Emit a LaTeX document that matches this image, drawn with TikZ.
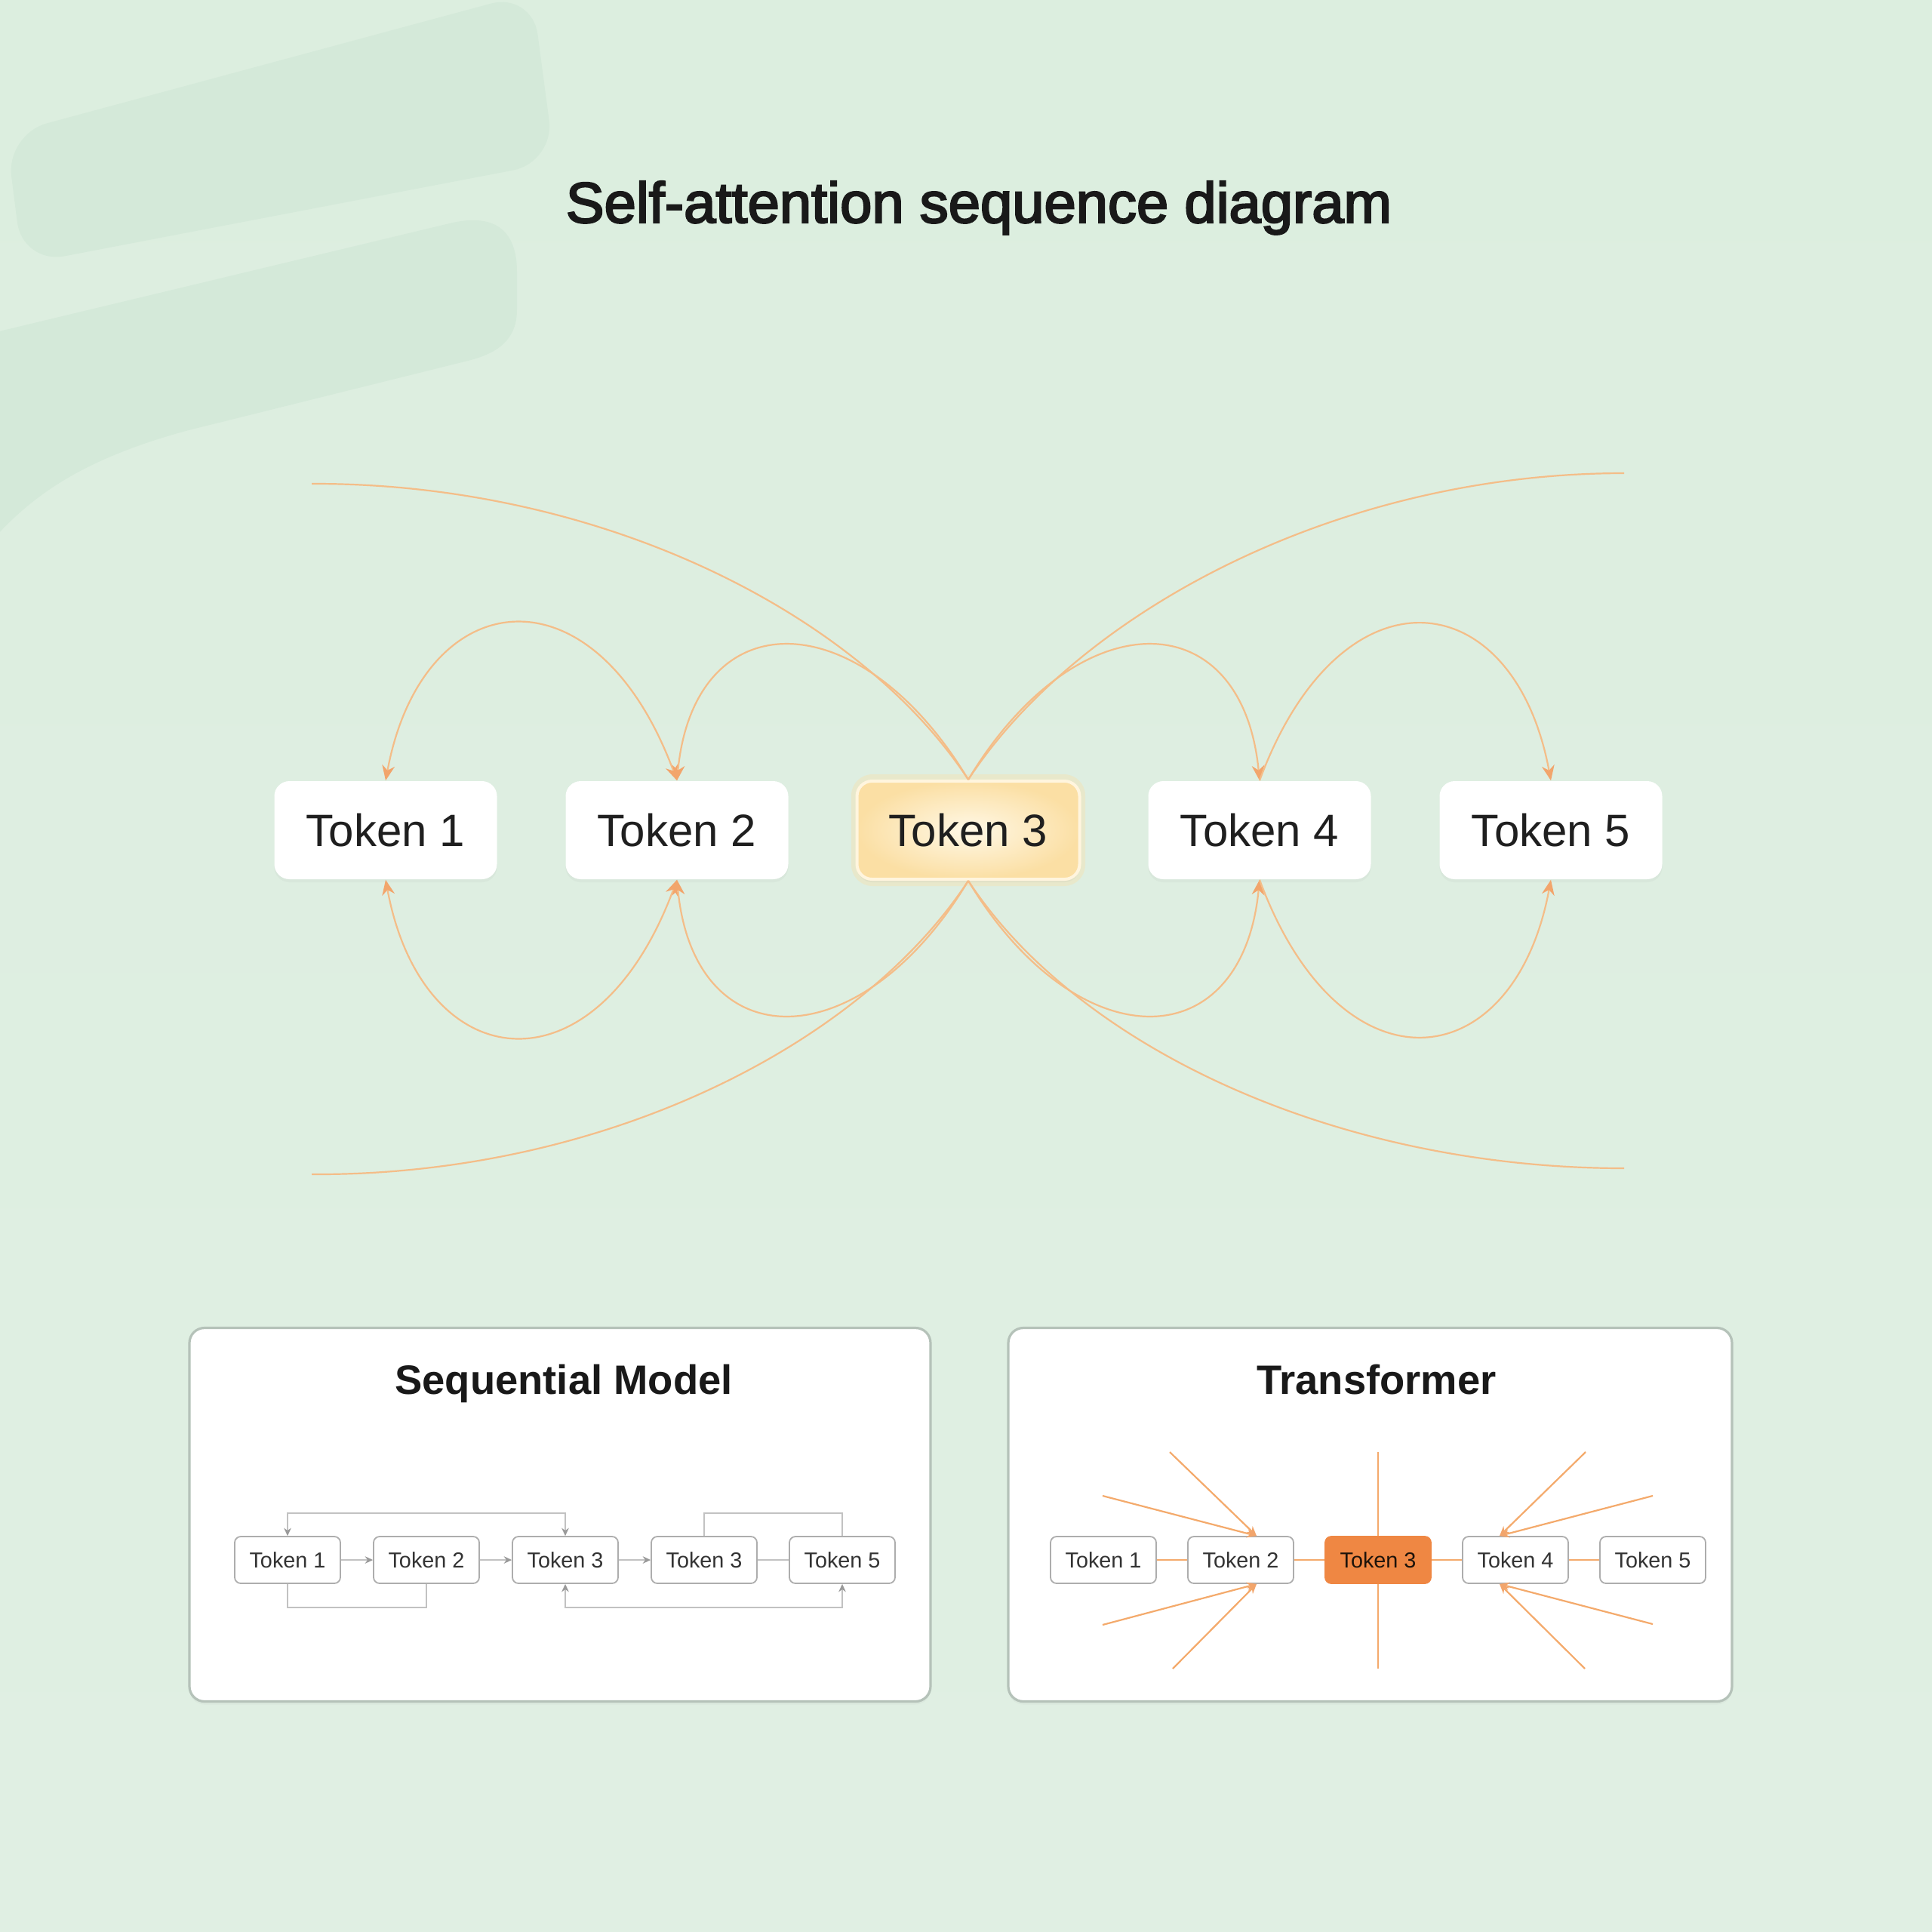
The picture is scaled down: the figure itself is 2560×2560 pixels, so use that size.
\documentclass[tikz,border=0pt]{standalone}
\usepackage{fontspec}
\setmainfont{Liberation Sans}
\newfontfamily\titlefont[FakeBold=3]{Liberation Sans}
\usetikzlibrary{arrows.meta,shadows}
\definecolor{bgA}{HTML}{DCEEDF}
\definecolor{bgB}{HTML}{E0EFE3}
\definecolor{band}{HTML}{D4E9D9}
\definecolor{curve}{HTML}{F4BD88}
\definecolor{tipc}{HTML}{F2A56C}
\definecolor{hotA}{HTML}{FFF8E6}
\definecolor{hotB}{HTML}{FBDFA4}
\definecolor{hotbd}{HTML}{FFF5DE}
\definecolor{panelbd}{HTML}{B5C2B9}
\definecolor{smallbd}{HTML}{ADADAD}
\definecolor{seqline}{HTML}{C2C2C2}
\definecolor{orangeT}{HTML}{EF8743}
\definecolor{rayc}{HTML}{F4AA6C}
\begin{document}
\begin{tikzpicture}[x=0.25pt,y=-0.25pt,
  bigtok/.style={rectangle, rounded corners=5pt, minimum width=73.75pt, minimum height=32.5pt,
    fill=white, inner sep=0pt, text=black!88, font=\fontsize{15pt}{18pt}\selectfont,
    drop shadow={opacity=0.06, shadow xshift=0pt, shadow yshift=-1pt}},
  hottok/.style={bigtok, draw=hotbd, line width=1pt, inner color=hotA, outer color=hotB},
  attn/.style={draw=curve, line width=0.55pt},
  tp/.tip={Stealth[length=5pt,width=4.2pt,color=tipc]},
  panel/.style={draw=panelbd, line width=0.8pt, fill=white, rounded corners=5pt,
    drop shadow={opacity=0.06, shadow xshift=0pt, shadow yshift=-1pt}},
  smalltok/.style={rectangle, draw=smallbd, line width=0.45pt, fill=white, rounded corners=2pt,
    minimum width=35pt, minimum height=15.5pt, inner sep=0pt, text=black!80,
    font=\fontsize{7.2pt}{9pt}\selectfont},
  seq/.style={draw=seqline, line width=0.5pt},
  sp/.tip={Stealth[length=2.6pt,width=2.4pt,color=black!40]},
  ray/.style={draw=rayc, line width=0.55pt},
  rp/.tip={Stealth[length=3.2pt,width=2.8pt,color=tipc]},
  sectitle/.style={font=\fontsize{13.6pt}{16pt}\selectfont\bfseries, text=black!90, anchor=base}
]
% background
\useasboundingbox (0,0) rectangle (2560,2560);
\shade[top color=bgA, bottom color=bgB] (0,0) rectangle (2560,2560);
\fill[band, rounded corners=14pt] (8,178) -- (705,-10) -- (735,215) -- (30,350) -- cycle;
\fill[band] (-5,440) -- (600,295) .. controls (660,282) and (685,310) .. (685,360)
  -- (685,410) .. controls (685,450) and (660,468) .. (620,478) -- (250,570)
  .. controls (120,605) and (50,650) .. (-5,710) -- cycle;

% title
\node[font=\fontsize{19pt}{22pt}\titlefont, text=black!90, anchor=base] (title) at (1297,295) {Self-attention sequence diagram};

% free ends
\coordinate (ul) at (413,641);
\coordinate (ur) at (2152,627);
\coordinate (ll) at (413,1556);
\coordinate (lr) at (2152,1548);

% glow behind the highlighted token
\fill[hotB, opacity=0.35, rounded corners=7pt] (1128,1026) rectangle (1438,1174);

% tokens
\node[bigtok] (t1) at (511,1100) {Token 1};
\node[bigtok] (t2) at (897,1100) {Token 2};
\node[hottok] (t3) at (1283,1100) {Token 3};
\node[bigtok] (t4) at (1669,1100) {Token 4};
\node[bigtok] (t5) at (2055,1100) {Token 5};

% upper curves
\draw[attn, tp-tp] (t1.north) .. controls (560,770) and (790,745) .. (t2.north);
\draw[attn, tp-] (t2.north) .. controls (920,795) and (1140,795) .. (t3.north);
\draw[attn] (ul) .. controls (800,640) and (1140,815) .. (t3.north);
\draw[attn] (t3.north) .. controls (1426,815) and (1766,627) .. (ur);
\draw[attn, -tp] (t3.north) .. controls (1426,795) and (1646,795) .. (t4.north);
\draw[attn, -tp] (t4.north) .. controls (1776,745) and (2006,770) .. (t5.north);
% lower curves
\draw[attn, tp-tp] (t1.south) .. controls (560,1430) and (790,1455) .. (t2.south);
\draw[attn, tp-] (t2.south) .. controls (920,1405) and (1140,1405) .. (t3.south);
\draw[attn] (ll) .. controls (800,1558) and (1140,1385) .. (t3.south);
\draw[attn] (t3.south) .. controls (1426,1385) and (1766,1548) .. (lr);
\draw[attn, -tp] (t3.south) .. controls (1426,1405) and (1646,1405) .. (t4.south);
\draw[attn, -tp] (t4.south) .. controls (1776,1455) and (2006,1430) .. (t5.south);

% panels
\node[panel, minimum width=245.5pt, minimum height=123.75pt] (seqp) at (742,2007) {};
\node[panel, minimum width=239.75pt, minimum height=123.75pt] (trp) at (1815.5,2007) {};
\node[sectitle] (seqtitle) at (747,1847) {Sequential Model};
\node[sectitle] (trtitle) at (1824,1847) {Transformer};

% sequential model
\node[smalltok] (q1) at (381,2067) {Token 1};
\node[smalltok] (q2) at (565,2067) {Token 2};
\node[smalltok] (q3) at (749,2067) {Token 3};
\node[smalltok] (q4) at (933,2067) {Token 3};
\node[smalltok] (q5) at (1116,2067) {Token 5};
\draw[seq, -sp] (q1.east) -- (q2.west);
\draw[seq, -sp] (q2.east) -- (q3.west);
\draw[seq, -sp] (q3.east) -- (q4.west);
\draw[seq] (q4.east) -- (q5.west);
\draw[seq, sp-sp] (q1.north) -- ++(0,-30) -| (q3.north);
\draw[seq] (q4.north) -- ++(0,-30) -| (q5.north);
\draw[seq] (q1.south) -- ++(0,31) -| (q2.south);
\draw[seq, sp-sp] (q3.south) -- ++(0,31) -| (q5.south);

% transformer
\coordinate (vt) at (1826,1924);
\coordinate (vb) at (1826,2211);
\coordinate (r1) at (1550,1924);
\coordinate (r2) at (1461,1982);
\coordinate (r3) at (1461,2153);
\coordinate (r4) at (1554,2211);
\coordinate (r5) at (2101,1924);
\coordinate (r6) at (2190,1982);
\coordinate (r7) at (2190,2152);
\coordinate (r8) at (2100,2211);
\node[smalltok] (a1) at (1462,2067) {Token 1};
\node[smalltok] (a2) at (1644,2067) {Token 2};
\node[smalltok, fill=orangeT, draw=orangeT, text=black!85!brown] (a3) at (1826,2067) {Token 3};
\node[smalltok] (a4) at (2008,2067) {Token 4};
\node[smalltok] (a5) at (2190,2067) {Token 5};
\draw[ray] (a1.east) -- (a2.west);
\draw[ray] (a2.east) -- (a3.west);
\draw[ray] (a3.east) -- (a4.west);
\draw[ray] (a4.east) -- (a5.west);
\draw[ray] (vt) -- (a3.north);
\draw[ray] (a3.south) -- (vb);
\draw[ray, -rp] (r1) -- ([xshift=5.25pt]a2.north);
\draw[ray, -rp] (r2) -- ([xshift=5.25pt]a2.north);
\draw[ray, -rp] (r3) -- ([xshift=5.25pt]a2.south);
\draw[ray, -rp] (r4) -- ([xshift=5.25pt]a2.south);
\draw[ray, -rp] (r5) -- ([xshift=-5.25pt]a4.north);
\draw[ray, -rp] (r6) -- ([xshift=-5.25pt]a4.north);
\draw[ray, -rp] (r7) -- ([xshift=-5.25pt]a4.south);
\draw[ray, -rp] (r8) -- ([xshift=-5.25pt]a4.south);
\end{tikzpicture}
\end{document}
